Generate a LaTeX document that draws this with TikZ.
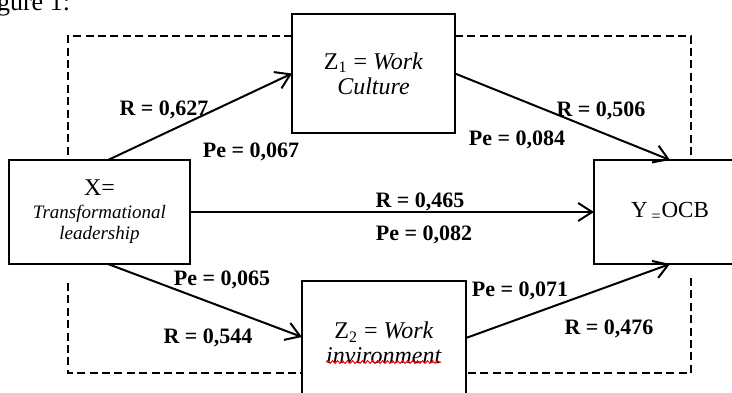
\documentclass[tikz,border=0pt]{standalone}
\usepackage{fontspec}
\setmainfont{Liberation Serif}
\usetikzlibrary{arrows.meta,decorations.pathmorphing}

\begin{document}
\begin{tikzpicture}[
    x=0.5pt, y=-0.5pt,
    box/.style={rectangle, draw, line width=0.6pt, inner sep=0pt, outer sep=0pt, align=center, font=\fontsize{12}{12.5}\selectfont},
    arrow/.style={-{Straight Barb[length=7pt,width=9pt]}, line width=1pt},
    frame/.style={dash pattern=on 4pt off 2.2pt, line width=1pt},
    val/.style={font=\fontsize{11}{13}\selectfont\bfseries, inner sep=0pt, text height=7.3pt, text depth=0pt}
]
\useasboundingbox (0,0) rectangle (732,392);
\node[anchor=base west, inner sep=0pt, font=\fontsize{13}{15}\selectfont] (title) at (-25,10) {Figure 1:};

\node[box, minimum width=90.5pt, minimum height=52pt] (x) at (99.5,212) {X=\\[-1pt]{\fontsize{9.5}{11}\selectfont\itshape Transformational}\\[-2pt]{\fontsize{9.5}{11}\selectfont\itshape leadership}};
\node[box, minimum width=81.5pt, minimum height=59.5pt] (z1) at (373.5,73.5) {Z\textsubscript{1} = \textit{Work}\\\textit{Culture}};
\node[box, minimum width=82pt, minimum height=62pt] (z2) at (384,343) {Z\textsubscript{2} = \textit{Work}\\\textit{invironment}};
\node[box, minimum width=76pt, minimum height=52pt, font=\fontsize{11.5}{12}\selectfont] (y) at (670,212) {Y\,\textsubscript{=}OCB};

\coordinate (tl) at (68,36);
\coordinate (tr) at (691,36);
\coordinate (bl) at (68,373);
\coordinate (br) at (691,373);
\draw[frame] (z1.west |- tl) -- (tl) -- (tl |- x.north);
\draw[frame] (z1.east |- tr) -- (tr) -- (tr |- y.north);
\draw[frame] (68,283) -- (bl) -- (bl -| z2.west);
\draw[frame] (691,278) -- (br) -- (br -| z2.east);

\draw[arrow] ([xshift=4.25pt]x.north) -- (z1.west);
\draw[arrow] (z1.east) -- (y.north);
\draw[arrow] (x.east) -- (y.west);
\draw[arrow] ([xshift=4.25pt]x.south) -- ([yshift=3pt]z2.west);
\draw[arrow] ([yshift=2.5pt]z2.east) -- (y.south);

\draw[red, line width=0.5pt, decorate, decoration={snake, amplitude=0.7pt, segment length=2.5pt}] (326,362) -- (441,362);

\node[val] (r1) at (164,108) {R = 0,627};
\node[val] (pe1) at (251,150) {Pe = 0,067};
\node[val] (r2) at (601,109) {R = 0,506};
\node[val] (pe2) at (517,138) {Pe = 0,084};
\node[val] (r3) at (420,200) {R = 0,465};
\node[val] (pe3) at (424,233) {Pe = 0,082};
\node[val] (pe4) at (222,278) {Pe = 0,065};
\node[val] (r4) at (208,336) {R = 0,544};
\node[val] (pe5) at (520,289) {Pe = 0,071};
\node[val] (r5) at (609,327) {R = 0,476};
\end{tikzpicture}
\end{document}
